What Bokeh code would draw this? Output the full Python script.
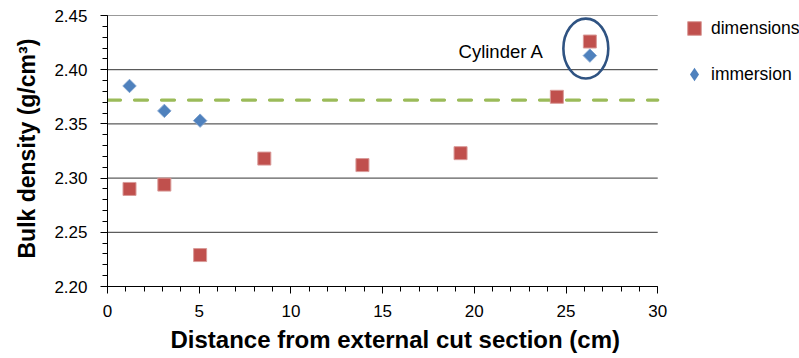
import math
from bokeh.plotting import figure
from bokeh.models import (Range1d, FixedTicker, PrintfTickFormatter, Legend,
                          LegendItem, Label, Title)
from bokeh.embed import file_html
from bokeh.resources import INLINE

# ---------------- data ----------------
dim_x = [1.2, 3.1, 5.05, 8.55, 13.9, 19.25, 24.5, 26.3]
dim_y = [2.290, 2.294, 2.229, 2.318, 2.312, 2.323, 2.375, 2.426]
imm_x = [1.2, 3.1, 5.05, 26.3]
imm_y = [2.385, 2.362, 2.353, 2.413]
reference_density = 2.372
x_ticks = [0, 5, 10, 15, 20, 25, 30]
y_ticks = [2.20, 2.25, 2.30, 2.35, 2.40, 2.45]
series_labels = ["dimensions", "immersion"]
annotation_text = "Cylinder A"
x_title = "Distance from external cut section (cm)"
y_title = "Bulk density (g/cm³)"

X_MIN, X_MAX = 0, 30
X_VIEW_MAX = 37.73   # frame extends to the right edge so the legend can sit inside it

FONT = "Liberation Sans"
RED = "#C0504D"
BLUE = "#4F81BD"
GREEN = "#9BBB59"
ELLIPSE = "#2F5382"

p = figure(width=799, height=358, output_backend="svg", toolbar_location=None,
           x_range=Range1d(X_MIN, X_VIEW_MAX), y_range=Range1d(2.20, 2.45),
           min_border_left=106, min_border_right=0, min_border_top=15,
           min_border_bottom=72)
p.outline_line_color = None
p.background_fill_color = "white"
p.border_fill_color = "white"

# axes
p.xaxis.ticker = FixedTicker(ticks=x_ticks, minor_ticks=list(range(X_MIN, X_MAX + 1)))
p.xaxis.bounds = (X_MIN, X_MAX)
p.yaxis.ticker = FixedTicker(ticks=y_ticks,
                             minor_ticks=[round(2.20 + 0.01 * i, 2) for i in range(26)])
p.yaxis.formatter = PrintfTickFormatter(format="%.2f")
for ax in (p.xaxis, p.yaxis):
    ax.axis_line_color = "black"
    ax.axis_line_width = 1
    ax.major_tick_line_color = "black"
    ax.minor_tick_line_color = "black"
    ax.major_tick_in = 0
    ax.major_tick_out = 7
    ax.minor_tick_in = 0
    ax.minor_tick_out = 5
    ax.major_label_text_font = FONT
    ax.major_label_text_font_size = "17px"
    ax.major_label_text_color = "black"
p.yaxis.major_label_standoff = 13
p.xaxis.major_label_standoff = 11

p.xgrid.visible = False
p.ygrid.visible = False
# horizontal gridlines limited to the 0-30 span
p.segment(x0=[X_MIN] * len(y_ticks), x1=[X_MAX] * len(y_ticks), y0=y_ticks, y1=y_ticks,
          line_color="black", line_alpha=0.8, line_width=1)

# reference level
p.segment(x0=[X_MIN], x1=[X_MAX], y0=[reference_density], y1=[reference_density],
          line_color=GREEN, line_width=3.3, line_dash="13 14", line_cap="round")

r_dim = p.scatter(dim_x, dim_y, marker="square", size=13, fill_color=RED,
                  line_color="#D99A98", line_width=1)
r_imm = p.scatter(imm_x, imm_y, marker="square", angle=math.pi / 4, size=9.5,
                  fill_color=BLUE, line_color="#7FA3D0", line_width=1)
# legend-only glyph for the immersion series (legend glyphs are drawn unrotated);
# zero size so it draws nothing in the plot itself
r_imm_leg = p.scatter(imm_x, imm_y, marker="diamond", size=0, fill_color=BLUE,
                      line_color=None)

# Cylinder A annotation
cx = imm_x[-1] - 0.22
cy = (dim_y[-1] + imm_y[-1]) / 2
p.ellipse(x=[cx], y=[cy], width=[2.45], height=[0.0553], fill_color=None,
          line_color=ELLIPSE, line_width=2.6)
p.add_layout(Label(x=imm_x[-1], y=cy, x_offset=-46, y_offset=-3, text=annotation_text,
                   text_align="right", text_baseline="middle", text_font=FONT,
                   text_font_size="18.5px", text_color="black"))

legend = Legend(items=[LegendItem(label=series_labels[0], renderers=[r_dim]),
                       LegendItem(label=series_labels[1], renderers=[r_imm_leg])],
                location=(570, 195), glyph_width=34, glyph_height=34, label_standoff=0,
                spacing=12, padding=0, margin=0, border_line_color=None,
                background_fill_alpha=0, label_text_font=FONT,
                label_text_font_size="17.5px", label_text_color="black")
p.add_layout(legend)

# axis titles
p.add_layout(Title(text=x_title, align="left", offset=63, standoff=9,
                   text_font=FONT, text_font_size="24px", text_font_style="bold",
                   text_color="black"), "below")
p.add_layout(Title(text=y_title, align="left", offset=28, standoff=23,
                   text_font=FONT, text_font_size="23px", text_font_style="bold",
                   text_color="black"), "left")

open("out.html", "w").write(file_html(p, INLINE))
